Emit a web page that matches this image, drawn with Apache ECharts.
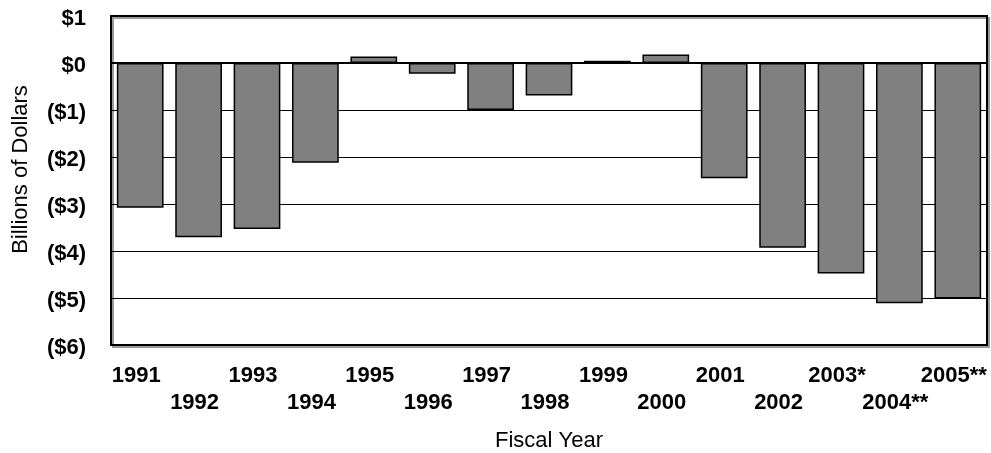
<!DOCTYPE html>
<html><head><meta charset="utf-8">
<script src="https://cdn.jsdelivr.net/npm/echarts@6/dist/echarts.min.js"></script>
<style>html,body{margin:0;padding:0;background:#fff}#c{width:991px;height:453px}</style>
</head><body><div id="c"></div>
<script>
const categories = ['1991','1992','1993','1994','1995','1996','1997','1998','1999','2000','2001','2002','2003*','2004**','2005**'];
const values = [-3.08, -3.71, -3.53, -2.12, 0.14, -0.23, -1.0, -0.69, 0.05, 0.18, -2.45, -3.93, -4.48, -5.11, -5.01];
const yTicks = { min: -6, max: 1, interval: 1 };
const yTitle = 'Billions of Dollars';
const xTitle = 'Fiscal Year';

const chart = echarts.init(document.getElementById('c'));
const font = '"Liberation Sans", Arial, sans-serif';
chart.setOption({
  animation: false,
  grid: { left: 111, right: 4, top: 16, bottom: 108, show: true, borderColor: '#000', borderWidth: 2,
    outerBoundsMode: 'none', containLabel: false,
    backgroundColor: '#fff', shadowColor: '#9a9a9a', shadowOffsetX: 2, shadowOffsetY: 2, shadowBlur: 0 },
  xAxis: {
    type: 'category', data: categories,
    axisLine: { show: false }, axisTick: { show: false },
    axisLabel: { interval: 0, margin: 17, fontFamily: font, fontWeight: 'bold', fontSize: 22, color: '#000', lineHeight: 27,
      padding: [0, 8, 0, 0],
      formatter: (v, i) => (i % 2 ? '\n' + v : v) },
    name: xTitle, nameLocation: 'middle', nameGap: 85,
    nameTextStyle: { fontFamily: font, fontSize: 22, color: '#000' }
  },
  yAxis: {
    type: 'value', min: yTicks.min, max: yTicks.max, interval: yTicks.interval,
    axisLine: { show: false }, axisTick: { show: false },
    splitLine: { lineStyle: { color: '#000', width: 1 } },
    axisLabel: { margin: 25, fontFamily: font, fontWeight: 'bold', fontSize: 22, color: '#000',
      verticalAlign: 'top', lineHeight: 6,
      formatter: v => v < 0 ? '($' + Math.abs(v) + ')' : '$' + v },
    name: yTitle, nameLocation: 'middle', nameGap: 79, nameRotate: 90,
    nameTextStyle: { fontFamily: font, fontSize: 22, color: '#000', padding: [0, 0, 0, 22] }
  },
  series: [{
    type: 'bar', data: values, barWidth: '80%',
    itemStyle: { color: '#808080', borderColor: '#000', borderWidth: 1.5 },
    markLine: { silent: true, symbol: 'none', label: { show: false },
      lineStyle: { color: '#000', width: 2, type: 'solid' }, data: [{ yAxis: 0 }] }
  }]
});
</script></body></html>
